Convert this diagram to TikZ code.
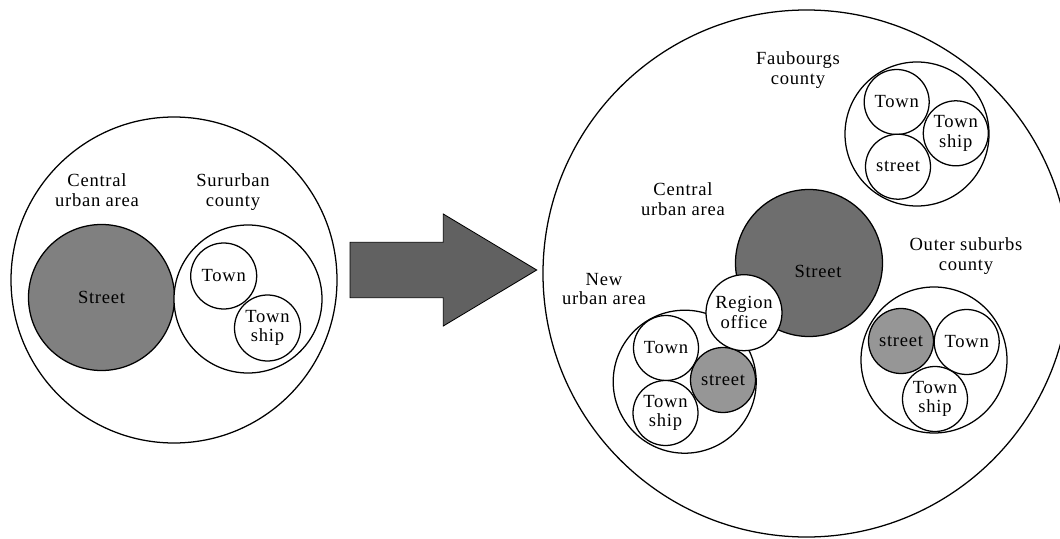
\documentclass[tikz,border=0pt]{standalone}
\usepackage{fontspec}
\setmainfont{Liberation Serif}[LetterSpace=4]
\usepackage{tikz}
\usetikzlibrary{positioning}
\definecolor{oldgray}{RGB}{128,128,128}
\definecolor{coregray}{RGB}{110,110,110}
\definecolor{unitgray}{RGB}{150,150,150}
\definecolor{arrowgray}{RGB}{97,97,97}
\tikzset{
  ring/.style={
    circle,
    draw,
    line width=0.9pt,
    fill=white,
    inner sep=0pt,
    align=center
  },
  unit/.style={ring, minimum size=16.25mm},
  street/.style={unit, fill=unitgray},
  areaname/.style={align=center, inner sep=0pt}
}

\begin{document}
\begin{tikzpicture}[
      x=0.25mm,
      y=-0.25mm,
      font=\fontsize{13.2pt}{14pt}\selectfont
    ]
    \clip (0,0) rectangle (1060,539);

    % before: one district
    \node[ring, minimum size=81.5mm] (old) at (174,280) {};
    \node[ring, fill=oldgray, minimum size=36.5mm] (oldstreet) at (101.5,297.5)
      {Street};
    \node[ring, minimum size=37mm] (sururban) at (248,299) {};
    \node[unit, minimum size=16.5mm] (oldtown) at (223.7,276) {Town};
    \node[unit, minimum size=16.5mm] (oldship) at (267.5,328) {Town\\ship};
    \node[areaname] (oldcentral) at (97,190) {Central\\urban area};
    \node[areaname] (oldsururban) at (233,192) {Sururban\\county};

    % transition arrow
    \filldraw[fill=arrowgray, line width=0.6pt]
      (350,242.3) -- (443.3,242.3) -- (443.3,214) -- (536.7,270)
      -- (443.3,326) -- (443.3,297.7) -- (350,297.7) -- cycle;

    % after: enlarged district
    \node[ring, minimum size=131.75mm] (new) at (806.5,273.5) {};
    \node[ring, fill=coregray, minimum size=36.75mm] (core) at (809,263) {};
    \node[areaname] (corename) at ([shift={(9,8)}]core.center) {Street};

    % new urban area
    \node[ring, minimum size=35.75mm] (newurban) at (684.7,381.7) {};
    \node[unit] (ntown) at (666,348) {Town};
    \node[street] (nstreet) at (723,380) {street};
    \node[unit] (nship) at (665.5,413) {Town\\ship};
    \node[ring, minimum size=19mm] (office) at (744,312.7) {Region\\office};

    % faubourgs county
    \node[ring, minimum size=36mm] (faubourgs) at (917,134) {};
    \node[unit] (ftown) at (896.7,102) {Town};
    \node[unit] (fship) at (955.8,133.3) {Town\\ship};
    \node[unit] (fstreet) at (898,166.7) {street};

    % outer suburbs county
    \node[ring, minimum size=36.5mm] (outer) at (934,360) {};
    \node[street] (ostreet) at (901,341) {street};
    \node[unit] (otown) at (966.7,342) {Town};
    \node[unit] (oship) at (935,399) {Town\\ship};

    \node[areaname] (fname) at (798,70) {Faubourgs\\county};
    \node[areaname] (cname) at (683,199) {Central\\urban area};
    \node[areaname] (oname) at (966,256) {Outer suburbs\\county};
    \node[areaname] (nname) at (604,289) {New\\urban area};
  \end{tikzpicture}
\end{document}
